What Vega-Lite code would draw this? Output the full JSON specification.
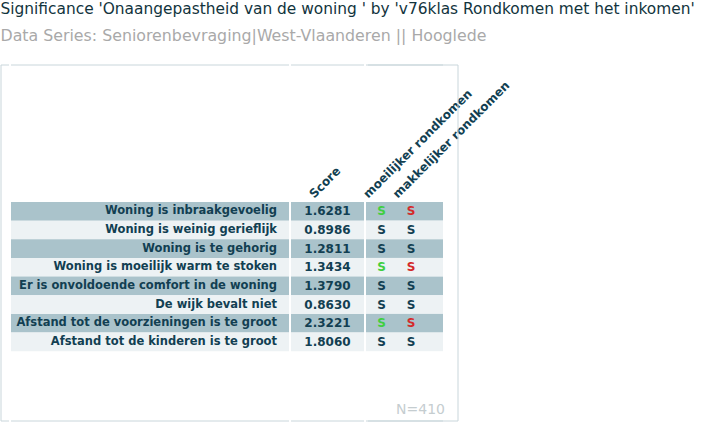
{
  "$schema": "https://vega.github.io/schema/vega-lite/v6.json",
  "padding": {"left": 0, "top": 2, "right": 0, "bottom": 0},
  "background": "white",
  "bounds": "flush",
  "title": {
    "text": "Significance 'Onaangepastheid van de woning ' by 'v76klas Rondkomen met het inkomen'",
    "subtitle": "Data Series: Seniorenbevraging|West-Vlaanderen || Hooglede",
    "anchor": "start",
    "font": "DejaVu Sans",
    "fontSize": 15.4,
    "fontWeight": "normal",
    "color": "#12343d",
    "subtitleFont": "DejaVu Sans",
    "subtitleFontSize": 15.8,
    "subtitleColor": "#a9a9a9",
    "subtitlePadding": 11,
    "offset": 21
  },
  "datasets": {
    "rows": [
      {"label": "Woning is inbraakgevoelig", "Score": 1.6281, "moeilijker rondkomen": "hoger", "makkelijker rondkomen": "lager"},
      {"label": "Woning is weinig gerieflijk", "Score": 0.8986, "moeilijker rondkomen": "niet significant", "makkelijker rondkomen": "niet significant"},
      {"label": "Woning is te gehorig", "Score": 1.2811, "moeilijker rondkomen": "niet significant", "makkelijker rondkomen": "niet significant"},
      {"label": "Woning is moeilijk warm te stoken", "Score": 1.3434, "moeilijker rondkomen": "hoger", "makkelijker rondkomen": "lager"},
      {"label": "Er is onvoldoende comfort in de woning", "Score": 1.3790, "moeilijker rondkomen": "niet significant", "makkelijker rondkomen": "niet significant"},
      {"label": "De wijk bevalt niet", "Score": 0.8630, "moeilijker rondkomen": "niet significant", "makkelijker rondkomen": "niet significant"},
      {"label": "Afstand tot de voorzieningen is te groot", "Score": 2.3221, "moeilijker rondkomen": "hoger", "makkelijker rondkomen": "lager"},
      {"label": "Afstand tot de kinderen is te groot", "Score": 1.8060, "moeilijker rondkomen": "niet significant", "makkelijker rondkomen": "niet significant"}
    ]
  },
  "spacing": 2,
  "hconcat": [
    {
      "width": 8,
      "height": 356,
      "data": {"values": [{}]},
      "mark": {"type": "rect", "fill": "transparent", "stroke": "#c9d6db", "strokeWidth": 1, "strokeDash": [8, 356, 364]},
      "encoding": {}
    },
    {
      "width": 278,
      "height": 356,
      "data": {"name": "rows"},
      "transform": [{"window": [{"op": "row_number", "as": "rn"}]}],
      "layer": [
        {
          "data": {"values": [{}]},
          "mark": {"type": "rect", "fill": "transparent", "stroke": "#c9d6db", "strokeWidth": 1, "strokeDash": [278, 356, 278, 356]},
          "encoding": {}
        },
        {
          "mark": {"type": "rect"},
          "encoding": {
            "y": {"field": "label", "type": "nominal", "sort": null, "axis": null, "scale": {"paddingInner": 0, "paddingOuter": 0, "range": [137, 286.2]}},
            "fill": {"field": "rn", "type": "ordinal", "scale": {"domain": [1, 2, 3, 4, 5, 6, 7, 8], "range": ["#aac3cb", "#edf2f4", "#aac3cb", "#edf2f4", "#aac3cb", "#edf2f4", "#aac3cb", "#edf2f4"]}, "legend": null}
          }
        },
        {
          "mark": {"type": "text", "align": "right", "baseline": "middle", "dx": -12, "font": "DejaVu Sans", "fontSize": 11.5, "fontWeight": "bold", "color": "#123f52"},
          "encoding": {
            "y": {"field": "label", "type": "nominal", "sort": null, "axis": null, "scale": {"paddingInner": 0, "paddingOuter": 0, "range": [137, 286.2]}},
            "x": {"value": "width"},
            "text": {"field": "label"}
          }
        }
      ]
    },
    {
      "width": 73,
      "height": 356,
      "data": {"name": "rows"},
      "transform": [{"window": [{"op": "row_number", "as": "rn"}]}],
      "layer": [
        {
          "data": {"values": [{}]},
          "mark": {"type": "rect", "fill": "transparent", "stroke": "#c9d6db", "strokeWidth": 1, "strokeDash": [73, 356, 73, 356]},
          "encoding": {}
        },
        {
          "mark": {"type": "rect"},
          "encoding": {
            "y": {"field": "label", "type": "nominal", "sort": null, "axis": null, "scale": {"paddingInner": 0, "paddingOuter": 0, "range": [137, 286.2]}},
            "fill": {"field": "rn", "type": "ordinal", "scale": {"domain": [1, 2, 3, 4, 5, 6, 7, 8], "range": ["#aac3cb", "#edf2f4", "#aac3cb", "#edf2f4", "#aac3cb", "#edf2f4", "#aac3cb", "#edf2f4"]}, "legend": null}
          }
        },
        {
          "mark": {"type": "text", "align": "center", "baseline": "middle", "font": "DejaVu Sans", "fontSize": 12, "fontWeight": "bold", "color": "#123f52"},
          "encoding": {
            "y": {"field": "label", "type": "nominal", "sort": null, "axis": null, "scale": {"paddingInner": 0, "paddingOuter": 0, "range": [137, 286.2]}},
            "text": {"field": "Score", "type": "quantitative", "format": ".4f"}
          }
        },
        {
          "transform": [{"fold": ["Score"], "as": ["key", "value"]}, {"filter": "datum.rn == 1"}],
          "mark": {"type": "text", "align": "left", "baseline": "middle", "angle": 315, "dx": -7, "dy": -15.6, "font": "DejaVu Sans", "fontSize": 12, "fontWeight": "bold", "color": "#123f52"},
          "encoding": {
            "y": {"field": "label", "type": "nominal", "sort": null, "axis": null, "bandPosition": 0, "scale": {"paddingInner": 0, "paddingOuter": 0, "range": [137, 286.2]}},
            "text": {"field": "key"}
          }
        }
      ]
    },
    {
      "spacing": 0,
      "bounds": "flush",
      "hconcat": [
        {
          "width": 31,
          "height": 356,
          "data": {"name": "rows"},
          "transform": [{"window": [{"op": "row_number", "as": "rn"}]}],
          "layer": [
            {
              "data": {"values": [{}]},
              "mark": {"type": "rect", "fill": "transparent", "stroke": "#c9d6db", "strokeWidth": 1, "strokeDash": [31, 356, 31, 356]},
              "encoding": {}
            },
            {
              "mark": {"type": "rect"},
              "encoding": {
                "y": {"field": "label", "type": "nominal", "sort": null, "axis": null, "scale": {"paddingInner": 0, "paddingOuter": 0, "range": [137, 286.2]}},
                "fill": {"field": "rn", "type": "ordinal", "scale": {"domain": [1, 2, 3, 4, 5, 6, 7, 8], "range": ["#aac3cb", "#edf2f4", "#aac3cb", "#edf2f4", "#aac3cb", "#edf2f4", "#aac3cb", "#edf2f4"]}, "legend": null}
              }
            },
            {
              "mark": {"type": "text", "align": "center", "baseline": "middle", "font": "DejaVu Sans", "fontSize": 12, "fontWeight": "bold"},
              "encoding": {
                "y": {"field": "label", "type": "nominal", "sort": null, "axis": null, "scale": {"paddingInner": 0, "paddingOuter": 0, "range": [137, 286.2]}},
                "text": {"value": "S"},
                "color": {"field": "moeilijker rondkomen", "type": "nominal", "scale": {"domain": ["hoger", "lager", "niet significant"], "range": ["#3fcf3f", "#d42a2a", "#123f52"]}, "legend": null}
              }
            },
            {
              "transform": [{"fold": ["moeilijker rondkomen"], "as": ["key", "value"]}, {"filter": "datum.rn == 1"}],
              "mark": {"type": "text", "align": "left", "baseline": "middle", "angle": 315, "dx": -7, "dy": -15.6, "font": "DejaVu Sans", "fontSize": 12, "fontWeight": "bold", "color": "#123f52"},
              "encoding": {
                "y": {"field": "label", "type": "nominal", "sort": null, "axis": null, "bandPosition": 0, "scale": {"paddingInner": 0, "paddingOuter": 0, "range": [137, 286.2]}},
                "text": {"field": "key"}
              }
            }
          ]
        },
        {
          "width": 28,
          "height": 356,
          "data": {"name": "rows"},
          "transform": [{"window": [{"op": "row_number", "as": "rn"}]}],
          "layer": [
            {
              "data": {"values": [{}]},
              "mark": {"type": "rect", "fill": "transparent", "stroke": "#c9d6db", "strokeWidth": 1, "strokeDash": [28, 356, 28, 356]},
              "encoding": {}
            },
            {
              "mark": {"type": "rect"},
              "encoding": {
                "y": {"field": "label", "type": "nominal", "sort": null, "axis": null, "scale": {"paddingInner": 0, "paddingOuter": 0, "range": [137, 286.2]}},
                "fill": {"field": "rn", "type": "ordinal", "scale": {"domain": [1, 2, 3, 4, 5, 6, 7, 8], "range": ["#aac3cb", "#edf2f4", "#aac3cb", "#edf2f4", "#aac3cb", "#edf2f4", "#aac3cb", "#edf2f4"]}, "legend": null}
              }
            },
            {
              "mark": {"type": "text", "align": "center", "baseline": "middle", "font": "DejaVu Sans", "fontSize": 12, "fontWeight": "bold"},
              "encoding": {
                "y": {"field": "label", "type": "nominal", "sort": null, "axis": null, "scale": {"paddingInner": 0, "paddingOuter": 0, "range": [137, 286.2]}},
                "text": {"value": "S"},
                "color": {"field": "makkelijker rondkomen", "type": "nominal", "scale": {"domain": ["hoger", "lager", "niet significant"], "range": ["#3fcf3f", "#d42a2a", "#123f52"]}, "legend": null}
              }
            },
            {
              "transform": [{"fold": ["makkelijker rondkomen"], "as": ["key", "value"]}, {"filter": "datum.rn == 1"}],
              "mark": {"type": "text", "align": "left", "baseline": "middle", "angle": 315, "dx": -7, "dy": -15.6, "font": "DejaVu Sans", "fontSize": 12, "fontWeight": "bold", "color": "#123f52"},
              "encoding": {
                "y": {"field": "label", "type": "nominal", "sort": null, "axis": null, "bandPosition": 0, "scale": {"paddingInner": 0, "paddingOuter": 0, "range": [137, 286.2]}},
                "text": {"field": "key"}
              }
            }
          ]
        },
        {
          "width": 18,
          "height": 356,
          "data": {"name": "rows"},
          "transform": [{"window": [{"op": "row_number", "as": "rn"}]}],
          "layer": [
            {
              "data": {"values": [{}]},
              "mark": {"type": "rect", "fill": "transparent", "stroke": "#c9d6db", "strokeWidth": 1, "strokeDash": [18, 356, 18, 356]},
              "encoding": {}
            },
            {
              "mark": {"type": "rect"},
              "encoding": {
                "y": {"field": "label", "type": "nominal", "sort": null, "axis": null, "scale": {"paddingInner": 0, "paddingOuter": 0, "range": [137, 286.2]}},
                "fill": {"field": "rn", "type": "ordinal", "scale": {"domain": [1, 2, 3, 4, 5, 6, 7, 8], "range": ["#aac3cb", "#edf2f4", "#aac3cb", "#edf2f4", "#aac3cb", "#edf2f4", "#aac3cb", "#edf2f4"]}, "legend": null}
              }
            }
          ]
        }
      ]
    },
    {
      "width": 90,
      "height": 356,
      "layer": [
        {
          "data": {"values": [{}]},
          "mark": {"type": "rect", "fill": "transparent", "stroke": "#c9d6db", "strokeWidth": 1, "strokeDash": [536, 356]},
          "encoding": {}
        },
        {
          "data": {"values": [{"n": "N=410"}]},
          "mark": {"type": "text", "align": "right", "baseline": "bottom", "dx": -13, "dy": -4, "font": "DejaVu Sans", "fontSize": 14, "color": "#c5cdd0"},
          "encoding": {
            "x": {"value": "width"},
            "y": {"value": "height"},
            "text": {"field": "n"}
          }
        }
      ]
    }
  ],
  "config": {"view": {"stroke": null}, "font": "DejaVu Sans"}
}
